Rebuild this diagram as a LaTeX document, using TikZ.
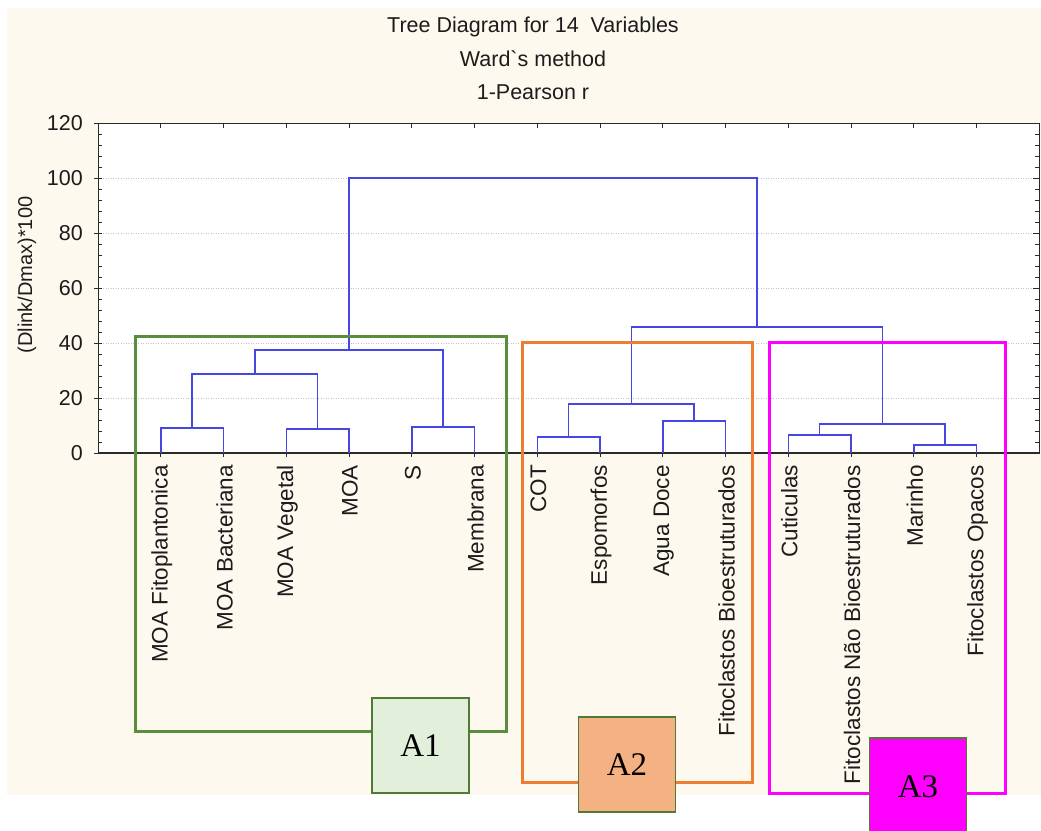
\documentclass[tikz,border=0pt]{standalone}
\usepackage{fontspec}
\setmainfont{Liberation Sans}
\newfontfamily\seriffont{Liberation Serif}
\definecolor{bgbeige}{HTML}{FDF9EE}
\definecolor{dendro}{HTML}{4646E0}
\definecolor{gridc}{HTML}{C4C4C4}
\definecolor{axisc}{HTML}{2A2A2A}
\definecolor{txtc}{HTML}{1C1C1C}
\definecolor{grnline}{HTML}{5B8E3C}
\definecolor{grnfill}{HTML}{E2EFDA}
\definecolor{grnedge}{HTML}{4F7B34}
\definecolor{orgline}{HTML}{ED7D31}
\definecolor{orgfill}{HTML}{F4B183}
\definecolor{magline}{HTML}{FF00FF}
\tikzset{
  dline/.style={draw=dendro, line width=1.5pt},
  gridline/.style={draw=gridc, line width=0.8pt, dash pattern=on 1pt off 1.5pt},
  titletext/.style={text=txtc, font=\fontsize{21.5}{24}\selectfont, inner sep=0pt},
  ticktext/.style={text=txtc, font=\fontsize{21.5}{24}\selectfont, anchor=east, inner sep=0pt},
  leaftext/.style={text=txtc, font=\fontsize{22.5}{25}\selectfont, rotate=90, anchor=east, inner sep=0pt},
  groupbox/.style={line width=3pt},
  labbox/.style={draw=grnedge, line width=1.5pt, minimum width=97pt, minimum height=95pt,
    font=\seriffont\fontsize{33}{36}\selectfont, text=black, inner sep=0pt},
}
\begin{document}
\begin{tikzpicture}[x=1pt, y=-1pt]
\useasboundingbox (0,0) rectangle (1041,830);
\begin{scope}
\clip (0,0) rectangle (1041,830);
% background
\fill[bgbeige] (7,8) rectangle (1041,795);
\fill[white] (98,123) rectangle (1039,453);
% titles
\node[titletext] (t1) at (533,27) {Tree Diagram for 14\ \ Variables};
\node[titletext] (t2) at (533,59) {Ward\textasciigrave s method};
\node[titletext] (t3) at (533,92) {1-Pearson r};
% y axis label
\node[text=txtc, font=\fontsize{20}{24}\selectfont, rotate=90, inner sep=0pt] (ylab) at (27,275) {(Dlink/Dmax)*100};
% grid lines
\foreach \v in {20,40,60,80,100} {
  \draw[gridline] (98,{453-2.75*\v}) -- (1039,{453-2.75*\v});
}
% minor ticks
\foreach \v in {4,8,...,116} {
  \draw[axisc, line width=0.8pt] (98,{453-2.75*\v}) -- (102,{453-2.75*\v});
  \draw[axisc, line width=0.8pt] (1039,{453-2.75*\v}) -- (1035,{453-2.75*\v});
}
% major ticks and labels
\foreach \v in {0,20,...,120} {
  \draw[axisc, line width=0.8pt] (94,{453-2.75*\v}) -- (98,{453-2.75*\v});
  \draw[axisc, line width=0.8pt] (1039,{453-2.75*\v}) -- (1033,{453-2.75*\v});
  \node[ticktext] (tick\v) at (83,{453-2.75*\v}) {\v};
}
% leaf ticks
\foreach \k in {1,...,14} {
  \draw[axisc, line width=0.8pt] ({98+62.75*\k},123) -- ({98+62.75*\k},128);
  \draw[axisc, line width=0.8pt] ({98+62.75*\k},453) -- ({98+62.75*\k},457);
}
% frame
\draw[axisc, line width=1pt] (98,123) rectangle (1039,453);
\draw[axisc, line width=1.8pt] (98,453) -- (1039,453);
% leaves
\foreach \k/\name in {1/MOA Fitoplantonica, 2/MOA Bacteriana, 3/MOA Vegetal, 4/MOA, 5/S, 6/Membrana,
  7/COT, 8/Espomorfos, 9/Agua Doce, 10/Fitoclastos Bioestruturados, 11/Cuticulas,
  12/Fitoclastos Não Bioestruturados, 13/Marinho, 14/Fitoclastos Opacos} {
  \coordinate (l\k) at ({98+62.75*\k},453);
  \node[leaftext] (lab\k) at ({98+62.75*\k+1},465) {\name};
}
% merge points
\coordinate (m12) at (192.1,428);
\coordinate (m34) at (317.6,429);
\coordinate (m56) at (443.1,427);
\coordinate (mA) at (254.9,374);
\coordinate (mA1) at (349,350);
\coordinate (m78) at (568.6,437);
\coordinate (m910) at (694.1,421);
\coordinate (mA2) at (631.4,404);
\coordinate (m1112) at (819.6,435);
\coordinate (m1314) at (945.1,445);
\coordinate (mA3) at (882.4,424);
\coordinate (mA23) at (756.9,327);
\coordinate (root) at (553,178);
% dendrogram
\draw[dline] (l1) |- (m12) -| (l2);
\draw[dline] (l3) |- (m34) -| (l4);
\draw[dline] (l5) |- (m56) -| (l6);
\draw[dline] (m12) |- (mA) -| (m34);
\draw[dline] (mA) |- (mA1) -| (m56);
\draw[dline] (l7) |- (m78) -| (l8);
\draw[dline] (l9) |- (m910) -| (l10);
\draw[dline] (m78) |- (mA2) -| (m910);
\draw[dline] (l11) |- (m1112) -| (l12);
\draw[dline] (l13) |- (m1314) -| (l14);
\draw[dline] (m1112) |- (mA3) -| (m1314);
\draw[dline] (mA2) |- (mA23) -| (mA3);
\draw[dline] (mA1) |- (root) -| (mA23);
% group boxes
\draw[groupbox, grnline] (135,336) rectangle (506,731);
\draw[groupbox, orgline] (522,342) rectangle (752,782);
\draw[groupbox, magline] (769,342) rectangle (1005,793);
% group labels
\node[labbox, fill=grnfill] (A1) at (420.5,745.5) {A1};
\node[labbox, fill=orgfill] (A2) at (627,764.5) {A2};
\node[labbox, fill=magline, minimum height=97pt] (A3) at (918,786.5) {A3};
\end{scope}
\end{tikzpicture}
\end{document}
